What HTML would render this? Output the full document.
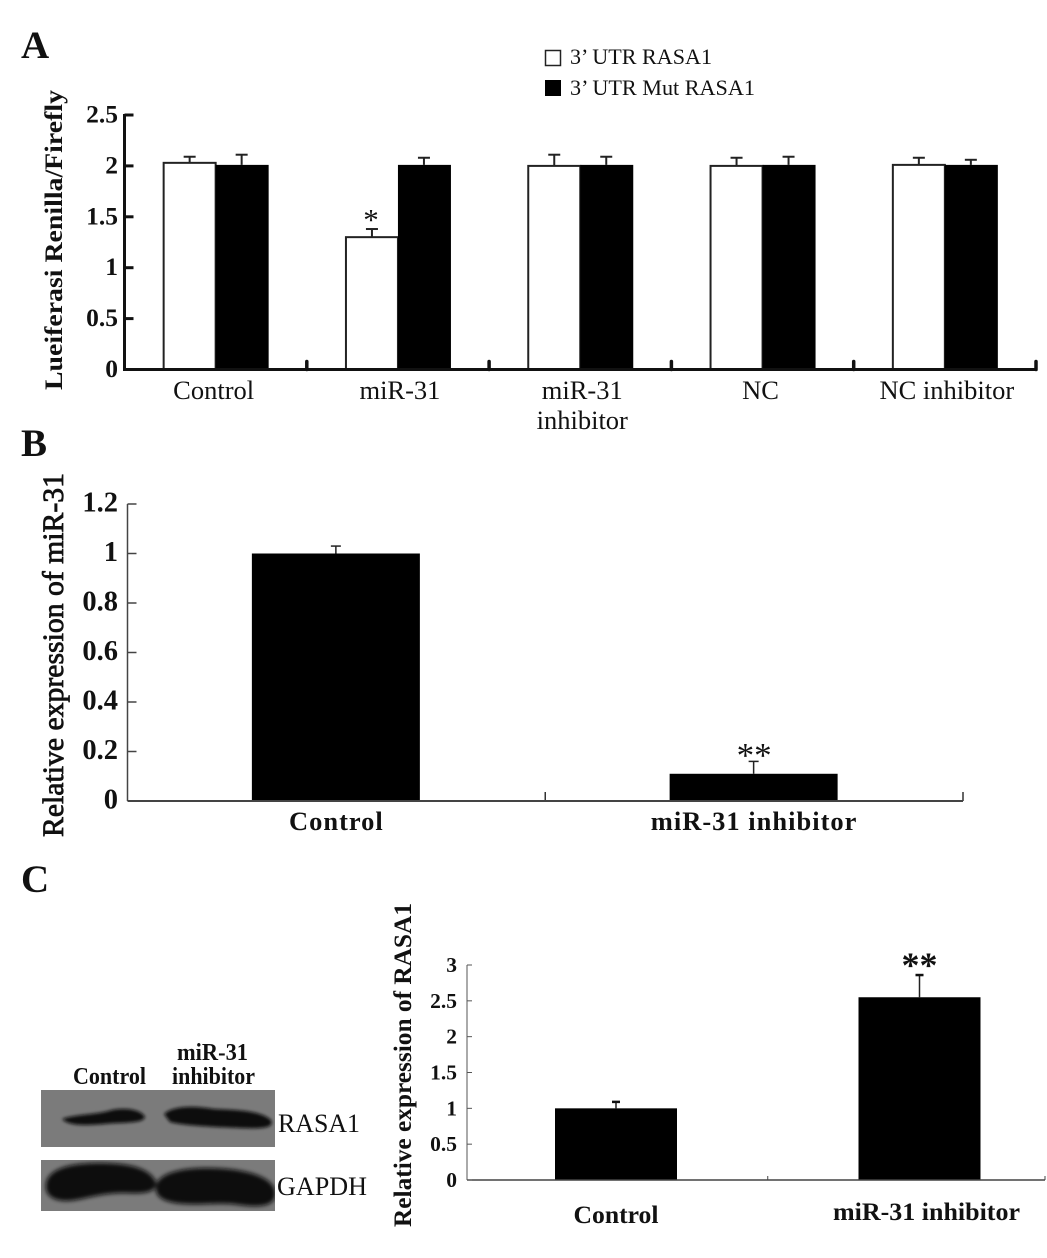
<!DOCTYPE html>
<html lang="en">
<head>
<meta charset="utf-8">
<title>RASA1 and miR-31 figure</title>
<style>
html,body{margin:0;padding:0;background:#fff;}
#figure{display:block;width:1047px;height:1258px;font-family:"Liberation Serif",serif;}
text{font-family:"Liberation Serif",serif;fill:#111;}
.b{font-weight:bold;}
</style>
</head>
<body>
<svg id="figure" xmlns="http://www.w3.org/2000/svg" width="1047" height="1258" viewBox="0 0 1047 1258">
<defs>
<filter id="blot-blur" x="-20%" y="-50%" width="140%" height="200%"><feGaussianBlur stdDeviation="2"/></filter>
<filter id="blot-blur-small" x="-20%" y="-80%" width="140%" height="260%"><feGaussianBlur stdDeviation="1.7"/></filter>
</defs>
<rect width="1047" height="1258" fill="#fff"/>

<text class="b" x="21" y="58" font-size="39">A</text>
<text class="b" x="21" y="456" font-size="39">B</text>
<text class="b" x="21" y="892" font-size="39">C</text>

<g>
<rect x="545.5" y="50.5" width="15" height="15" fill="#fff" stroke="#222" stroke-width="1.5"/>
<text x="570" y="64" font-size="22" textLength="142" lengthAdjust="spacingAndGlyphs">3’ UTR RASA1</text>
<rect x="545" y="80" width="16" height="16" fill="#000"/>
<text x="570" y="95" font-size="22" textLength="185" lengthAdjust="spacingAndGlyphs">3’ UTR Mut RASA1</text>
</g>

<text class="b" transform="translate(62,390) rotate(-90)" font-size="25" textLength="300" lengthAdjust="spacingAndGlyphs">Lueiferasi Renilla/Firefly</text>
<text transform="translate(63,837) rotate(-90)" font-size="30" stroke="#111" stroke-width="0.8" textLength="364" lengthAdjust="spacingAndGlyphs">Relative expression of miR-31</text>
<text class="b" transform="translate(411,1227) rotate(-90)" font-size="25" textLength="324" lengthAdjust="spacingAndGlyphs">Relative expression of RASA1</text>

<g id="chart-a"></g>
<g id="chart-b"></g>
<g id="chart-c"></g>

<g>
<text class="b" x="73" y="1084" font-size="24" textLength="73" lengthAdjust="spacingAndGlyphs">Control</text>
<text class="b" x="177" y="1060" font-size="24" textLength="71" lengthAdjust="spacingAndGlyphs">miR-31</text>
<text class="b" x="172" y="1084" font-size="24" textLength="83" lengthAdjust="spacingAndGlyphs">inhibitor</text>

<svg x="41" y="1090" width="234" height="57" viewBox="41 1090 234 57">
<rect x="41" y="1090" width="234" height="57" fill="#7b7b7b"/>
<g filter="url(#blot-blur-small)" fill="#0e0e0e">
<path d="M62 1119 C76 1114 96 1115 112 1110 C126 1107 142 1110 145 1117 C143 1124 122 1122 104 1124 C90 1125 70 1127 62 1119 Z"/>
<path d="M164 1114 C174 1105 196 1106 214 1109 C234 1110 260 1110 271 1120 C275 1128 262 1129 240 1128 C216 1127 186 1126 170 1122 Z"/>
</g>
</svg>

<svg x="41" y="1160" width="234" height="51" viewBox="41 1160 234 51">
<rect x="41" y="1160" width="234" height="51" fill="#7b7b7b"/>
<g filter="url(#blot-blur)" fill="#0b0b0b">
<path d="M46 1184 C48 1168 72 1163 100 1163 C128 1163 150 1168 156 1182 C157 1192 146 1194 125 1193 C104 1193 92 1197 76 1200 C58 1203 44 1198 46 1184 Z"/>
<path d="M156 1186 C158 1173 182 1168 206 1168 C238 1168 270 1174 275 1190 C278 1206 262 1208 240 1205 C222 1202 206 1205 186 1204 C166 1203 154 1198 156 1186 Z"/>
</g>
</svg>

<text x="278" y="1132" font-size="26" textLength="82" lengthAdjust="spacingAndGlyphs">RASA1</text>
<text x="277" y="1195" font-size="26" textLength="90" lengthAdjust="spacingAndGlyphs">GAPDH</text>
</g>
</svg>

<script>
// Panel A data
const aCategories = [["Control"], ["miR-31"], ["miR-31", "inhibitor"], ["NC"], ["NC inhibitor"]];
const aWildType = [2.03, 1.30, 2.00, 2.00, 2.01];
const aWildTypeErr = [0.06, 0.08, 0.11, 0.08, 0.07];
const aMutant = [2.01, 2.01, 2.01, 2.01, 2.01];
const aMutantErr = [0.10, 0.07, 0.08, 0.08, 0.05];
const aTicks = [0, 0.5, 1, 1.5, 2, 2.5];
const aTickLabels = ["0", "0.5", "1", "1.5", "2", "2.5"];
// Panel B data
const bCategories = ["Control", "miR-31 inhibitor"];
const bValues = [1.00, 0.11];
const bErr = [0.03, 0.05];
const bTicks = [0, 0.2, 0.4, 0.6, 0.8, 1, 1.2];
const bTickLabels = ["0", "0.2", "0.4", "0.6", "0.8", "1", "1.2"];
// Panel C data
const cCategories = ["Control", "miR-31 inhibitor"];
const cValues = [1.00, 2.55];
const cErr = [0.09, 0.31];
const cTicks = [0, 0.5, 1, 1.5, 2, 2.5, 3];
const cTickLabels = ["0", "0.5", "1", "1.5", "2", "2.5", "3"];

const NS = "http://www.w3.org/2000/svg";
function mk(parent, tag, attrs, txt) {
  const el = document.createElementNS(NS, tag);
  for (const k in attrs) el.setAttribute(k, attrs[k]);
  if (txt !== undefined) el.textContent = txt;
  parent.appendChild(el);
  return el;
}
function linear(d0, d1, r0, r1) {
  return v => r0 + (v - d0) / (d1 - d0) * (r1 - r0);
}
function line(parent, x1, y1, x2, y2, color, w, cap) {
  return mk(parent, "line", {x1, y1, x2, y2, stroke: color, "stroke-width": w, "stroke-linecap": cap || "butt"});
}

/* ---------- Panel A ---------- */
(function () {
  const g = document.getElementById("chart-a");
  const left = 124.5, right = 1036, base = 369.5;
  const y = linear(0, 2.5, base, 115);
  const band = (right - left) / aCategories.length;
  const center = i => left + band * (i + 0.5);
  const barW = 52;

  aCategories.forEach((cat, i) => {
    const c = center(i);
    const wt = line(g, c - barW / 2, y(aWildType[i] + aWildTypeErr[i]), c - barW / 2, y(aWildType[i]), "#222", 2);
    
    
    const wc = line(g, c - barW / 2 - 6, y(aWildType[i] + aWildTypeErr[i]), c - barW / 2 + 6, y(aWildType[i] + aWildTypeErr[i]), "#222", 2);
    
    
    const ms = line(g, c + barW / 2, y(aMutant[i] + aMutantErr[i]), c + barW / 2, y(aMutant[i]), "#222", 2);
    
    
    const mc = line(g, c + barW / 2 - 6, y(aMutant[i] + aMutantErr[i]), c + barW / 2 + 6, y(aMutant[i] + aMutantErr[i]), "#222", 2);
    
    

    const wb = mk(g, "rect", {x: c - barW, y: y(aWildType[i]), width: barW, height: base - y(aWildType[i]), fill: "#fff", stroke: "#222", "stroke-width": 2});
    
    
    const mb = mk(g, "rect", {x: c, y: y(aMutant[i]), width: barW + 1, height: base - y(aMutant[i]), fill: "#000"});
    
    

    cat.forEach((ln, j) => {
      const t = mk(g, "text", {x: c + (i === 0 || i === 3 ? -2 : 2), y: 399 + j * 30, "font-size": 26.5, "text-anchor": "middle"}, ln);
      
      
    });
    const tick = line(g, left + band * (i + 1), base, left + band * (i + 1), base - 8, "#111", 3.5, "round");
    
    
  });

  const star = mk(g, "text", {x: center(1) - 27, y: 230, "font-size": 31, "text-anchor": "middle", fill: "#333"}, "*");
  
  

  const ya = line(g, left, 114, left, base + 1.5, "#111", 3);
  
  
  const xa = line(g, left - 1.5, base, right + 1.5, base, "#111", 3);
  
  

  aTicks.forEach((v, i) => {
    const t = line(g, left, y(v), left + 9, y(v), "#111", 3);
    
    
    const l = mk(g, "text", {class: "b", x: 118, y: y(v) + 7.5, "font-size": 25.5, "text-anchor": "end"}, aTickLabels[i]);
    
    
  });
})();

/* ---------- Panel B ---------- */
(function () {
  const g = document.getElementById("chart-b");
  const left = 127.5, right = 963, base = 801;
  const y = linear(0, 1.2, base, 504);
  const band = (right - left) / bCategories.length;
  const center = i => left + band * (i + 0.5);
  const barW = 168;

  bCategories.forEach((cat, i) => {
    const c = center(i) - 0.5;
    const top = y(bValues[i] + bErr[i]);
    const st = line(g, c, top, c, y(bValues[i]), "#222", 1.5);
    
    
    const cp = line(g, c - 5, top, c + 5, top, "#222", 1.5);
    
    
    const b = mk(g, "rect", {x: c - barW / 2, y: y(bValues[i]), width: barW, height: base - y(bValues[i]), fill: "#000"});
    
    
    const l = mk(g, "text", {class: "b", x: c + 0.5, y: 830, "font-size": 26.5, "letter-spacing": 1, "text-anchor": "middle"}, cat);
    
    
    const tick = line(g, left + band * (i + 1), base, left + band * (i + 1), base - 9, "#333", 1.5);
    
    
  });

  const star = mk(g, "text", {x: center(1), y: 767, "font-size": 35, "text-anchor": "middle", fill: "#222"}, "**");
  
  

  const ya = line(g, left, 504, left, base, "#444", 1.5);
  
  
  const xa = line(g, left, base, right, base, "#444", 2);
  
  

  bTicks.forEach((v, i) => {
    const t = line(g, left, y(v), left + 9, y(v), "#444", 1.5);
    
    
    const l = mk(g, "text", {class: "b", x: 118, y: y(v) + 7.5, "font-size": 28.5, "text-anchor": "end"}, bTickLabels[i]);
    
    
  });
})();

/* ---------- Panel C ---------- */
(function () {
  const g = document.getElementById("chart-c");
  const left = 467, right = 1045, base = 1180;
  const y = linear(0, 3, base, 965);
  const x = linear(0, 1, 616, 919.5);
  const barW = 122;

  cCategories.forEach((cat, i) => {
    const c = x(i);
    const top = y(cValues[i] + cErr[i]);
    const st = line(g, c, top, c, y(cValues[i]), "#222", 1.5);
    
    
    const cp = line(g, c - 4, top, c + 4, top, "#111", 2.5);
    
    
    const b = mk(g, "rect", {x: c - barW / 2, y: y(cValues[i]), width: barW, height: base - y(cValues[i]), fill: "#000"});
    
    
    const l = mk(g, "text", {class: "b", x: c + (i === 0 ? 0 : 7), y: 1223 - i * 3, "font-size": 25, "text-anchor": "middle", textLength: i === 0 ? 85 : 187, lengthAdjust: "spacingAndGlyphs"}, cat);
    
    
    const tx = i === 0 ? x(0.5) : right;
    const tick = line(g, tx, base, tx, base - 4, "#444", 1);
    
    
  });

  const star = mk(g, "text", {class: "b", x: x(1), y: 977, "font-size": 36, "text-anchor": "middle", fill: "#000"}, "**");
  
  

  const ya = line(g, left, 965, left, base, "#555", 1);
  
  
  const xa = line(g, left, base, right, base, "#444", 1.5);
  
  

  cTicks.forEach((v, i) => {
    const t = line(g, left, y(v), left + 5, y(v), "#555", 1);
    
    
    const l = mk(g, "text", {class: "b", x: 457, y: y(v) + 7, "font-size": 21.5, "text-anchor": "end"}, cTickLabels[i]);
    
    
  });
})();
</script>
</body>
</html>
